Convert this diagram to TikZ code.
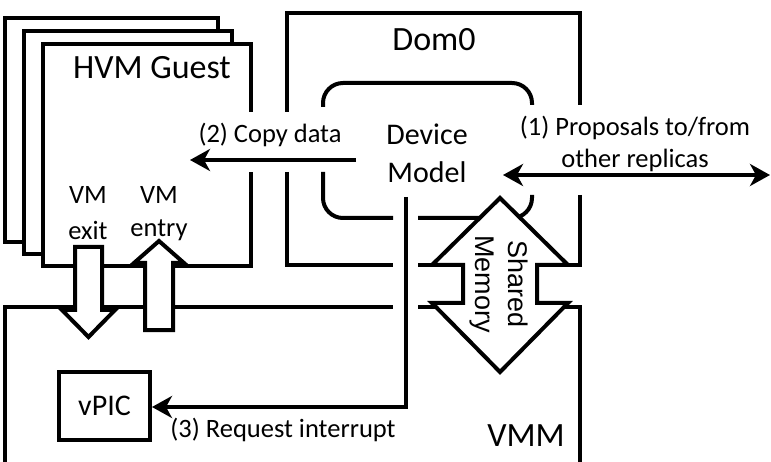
\documentclass[tikz,border=0pt]{standalone}
\usepackage{fontspec}
\setmainfont{Carlito}
\newfontfamily\arialf{Liberation Sans}
\usetikzlibrary{arrows.meta}
\tikzset{
  ln/.style={line width=4pt, black},
  conn/.style={line width=4.5pt, black, -{Stealth[length=20pt,width=22pt,inset=6pt]}},
  dconn/.style={line width=4.5pt, black, {Stealth[length=20pt,width=22pt,inset=6pt]}-{Stealth[length=20pt,width=22pt,inset=6pt]}},
  blockarrow/.style={line width=4pt, draw=black, fill=white},
  big/.style={font=\fontsize{34}{40}\selectfont, inner sep=0pt},
  mid/.style={font=\fontsize{30}{38}\selectfont, inner sep=0pt, align=center},
  small/.style={font=\fontsize{26.5}{35}\selectfont, inner sep=0pt, align=center},
  boxn/.style={draw=black, line width=4pt, fill=white, inner sep=0pt},
}
\begin{document}
\begin{tikzpicture}[x=1pt,y=-1pt]
\useasboundingbox (0,0) rectangle (771,462);
\fill[white] (0,0) rectangle (771,462);

% stacked guest boxes
\draw[ln, fill=white] (5,18) rectangle (218,242);
\draw[ln, fill=white] (24,31) rectangle (232,254);
\fill[white] (43,44) rectangle (251,266);
\draw[ln] (251,112) -- (251,44) -- (43,44) -- (43,266) -- (251,266) -- (251,172);

% Dom0
\draw[ln] (287,112) -- (287,13) -- (580,13) -- (580,105);
\draw[ln] (287,172) -- (287,265) -- (393,265);
\draw[ln] (418,265) -- (470,265);
\draw[ln] (580,195) -- (580,265) -- (540,265);

% Device model rounded box
\draw[ln, rounded corners=20pt] (323,107) -- (323,83) -- (532,83) -- (532,105);
\draw[ln, rounded corners=20pt] (323,172) -- (323,218) -- (393,218);
\draw[ln, rounded corners=20pt] (418,218) -- (532,218) -- (532,195);

% VMM
\draw[ln] (5,462) -- (5,307) -- (393,307);
\draw[ln] (418,307) -- (470,307);
\draw[ln] (540,307) -- (580,307) -- (580,462);

% vPIC
\node[boxn, minimum width=91pt, minimum height=68pt] (vpic) at (104.5,406) {};
\node[mid] (vpict) at (104.5,406) {vPIC};

% coordinates for connectors
\coordinate (dmbot) at (406,197);
\coordinate (dmturn) at (406,407);
\coordinate (c2s) at (356,160);
\coordinate (c2e) at (190,160);
\coordinate (c1a) at (503,175);
\coordinate (c1b) at (770,175);

\draw[conn] (dmbot) -- (dmturn) -- (vpic.east |- dmturn);
\draw[conn] (c2s) -- (c2e);
\draw[dconn] (c1a) -- (c1b);

% VM exit / entry block arrows
\draw[blockarrow] (75,247) -- (102,247) -- (102,310) -- (115,310) -- (88.5,337) -- (62,310) -- (75,310) -- cycle;
\draw[blockarrow] (145,330) -- (173,330) -- (173,263) -- (184,263) -- (159,241) -- (134,263) -- (145,263) -- cycle;

% Shared memory double block arrow
\draw[blockarrow] (500,198) -- (568,265) -- (537,265) -- (537,303) -- (568,303) -- (500,372) -- (432,303) -- (463,303) -- (463,265) -- (432,265) -- cycle;

% labels
\node[big] (hvm) at (152,68) {HVM Guest};
\node[big] (dom0) at (434,40) {Dom0};
\node[big] (vmm) at (526,436) {VMM};
\node[small] (copy) at (270,135) {(2) Copy data};
\node[mid] (dev) at (427,134) {Device};
\node[mid] (mod) at (427,172) {Model};
\node[small] (prop1) at (635,128) {(1) Proposals to/from};
\node[small] (prop2) at (635,160) {other replicas};
\node[small] (vm1) at (88,195) {VM};
\node[small] (ex) at (88,230) {exit};
\node[small] (vm2) at (159,195) {VM};
\node[small] (en) at (159,230) {entry};
\node[small] (req) at (283,430) {(3) Request interrupt};
\node[font=\arialf\fontsize{27}{36}\selectfont, inner sep=0pt, rotate=-90] (sh) at (518,284) {Shared};
\node[font=\arialf\fontsize{27}{36}\selectfont, inner sep=0pt, rotate=-90] (mem) at (482,284) {Memory};
\end{tikzpicture}
\end{document}
